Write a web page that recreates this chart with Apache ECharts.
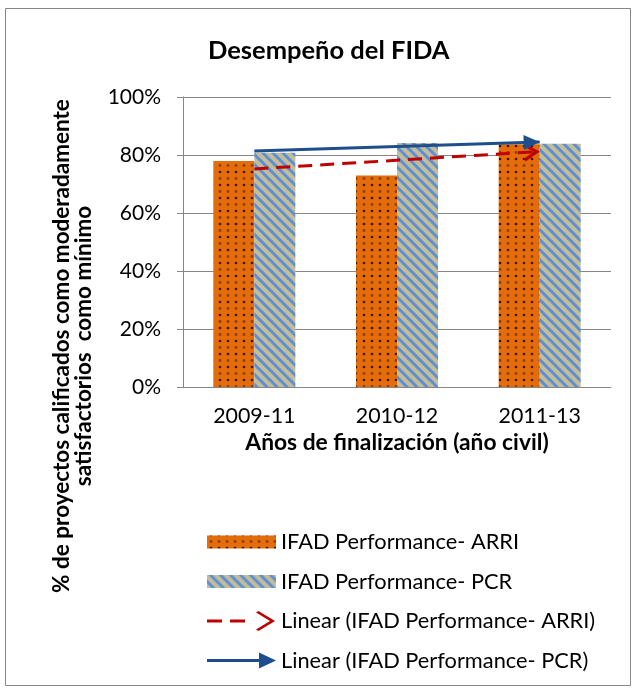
<!DOCTYPE html>
<html>
<head>
<meta charset="utf-8">
<title>Desempeño del FIDA</title>
<script src="https://cdn.jsdelivr.net/npm/echarts@6/dist/echarts.min.js"></script>
<style>
html, body { margin: 0; padding: 0; background: #fff; }
#chart { width: 632px; height: 689px; }
</style>
</head>
<body>
<div id="chart"></div>
<script>
const categories = ['2009-11', '2010-12', '2011-13'];
const arriValues = [77.9, 72.9, 83.7];
const pcrValues = [80.8, 84.1, 83.9];
// trend lines: start (first category) and end (last category)
const arriTrend = [75.2, 81.2];
const pcrTrend = [81.4, 84.5];
const yTicks = [0, 20, 40, 60, 80, 100];
const seriesNames = [
    'IFAD Performance- ARRI',
    'IFAD Performance- PCR',
    'Linear (IFAD Performance- ARRI)',
    'Linear (IFAD Performance- PCR)'
];

const font = 'Lato, "Open Sans", sans-serif';
const gridColor = '#868686';

function dotPattern() {
    const c = document.createElement('canvas');
    c.width = 8;
    c.height = 13;
    const ctx = c.getContext('2d');
    ctx.fillStyle = '#E46C0A';
    ctx.fillRect(0, 0, 8, 13);
    ctx.fillStyle = 'rgba(40,12,0,0.9)';
    ctx.beginPath();
    ctx.arc(4, 3, 1.3, 0, Math.PI * 2);
    ctx.fill();
    ctx.fillStyle = 'rgba(120,50,5,0.8)';
    ctx.beginPath();
    ctx.arc(4, 9.5, 1.4, 0, Math.PI * 2);
    ctx.fill();
    return c;
}

function stripePattern() {
    const s = 10;
    const c = document.createElement('canvas');
    c.width = s;
    c.height = s;
    const ctx = c.getContext('2d');
    ctx.fillStyle = '#C4BD97';
    ctx.fillRect(0, 0, s, s);
    ctx.strokeStyle = '#5B8FD6';
    ctx.lineWidth = 3;
    [-s, 0, s].forEach(k => {
        ctx.beginPath();
        ctx.moveTo(-1, k - 1);
        ctx.lineTo(s + 1, s + k + 1);
        ctx.stroke();
    });
    return c;
}

const arriFill = { image: dotPattern(), repeat: 'repeat' };
const pcrFill = { image: stripePattern(), repeat: 'repeat' };

// legend icons, 69 x 20 boxes (tiny corner specks keep the box size)
const corners = 'M0,0h0.01v0.01z M69,20h-0.01v-0.01z ';
const barIcon = 'path://' + corners + 'M0,3.5H69V16.5H0Z';
const redIcon = 'path://' + corners + 'M0,8.5H15V11.5H0Z M23,8.5H38V11.5H23Z M49,1.5L51.5,0L68,10L51.5,20L49,18.5L63,10Z';
const blueIcon = 'path://' + corners + 'M0,8.5H54V11.5H0Z M52,2L69,10L52,18Z';

// arrow heads for the trend lines, pointing up
const chevron = 'path://M0,15L9,0L18,15L15,16.5L9,6L3,16.5Z';
const triangle = 'path://M0,16L8,0L16,16Z';

function trendLine(values, head, headSize) {
    return [[
        { coord: [categories[0], values[0]], symbol: 'none' },
        {
            coord: [categories[categories.length - 1], values[1]],
            symbol: head,
            symbolSize: headSize,
            symbolOffset: [0, '50%']
        }
    ]];
}

const chart = echarts.init(document.getElementById('chart'));

const option = {
    animation: false,
    backgroundColor: '#ffffff',
    textStyle: { fontFamily: font },
    title: {
        text: 'Desempeño del FIDA',
        left: 203,
        top: 33,
        textStyle: { fontSize: 25.5, fontWeight: 'bold', color: '#000', fontFamily: font }
    },
    grid: { left: 183, right: 21, top: 97, bottom: 302 },
    legend: {
        orient: 'vertical',
        left: 207,
        top: 531,
        padding: 0,
        itemWidth: 69,
        itemHeight: 20,
        itemGap: 17.5,
        selectedMode: false,
        itemStyle: { borderWidth: 0 },
        textStyle: { fontSize: 21.8, color: '#000', fontFamily: font, lineHeight: 20 },
        data: [
            { name: seriesNames[0], icon: barIcon },
            { name: seriesNames[1], icon: barIcon },
            { name: seriesNames[2], icon: redIcon, itemStyle: { color: '#C00000' } },
            { name: seriesNames[3], icon: blueIcon, itemStyle: { color: '#1F4E8C' } }
        ]
    },
    xAxis: {
        type: 'category',
        data: categories,
        name: 'Años de finalización (año civil)',
        nameLocation: 'middle',
        nameGap: 44,
        nameTextStyle: { fontSize: 22.8, fontWeight: 'bold', color: '#000', fontFamily: font },
        axisLine: { lineStyle: { color: gridColor, width: 1 } },
        axisTick: { length: 6, lineStyle: { color: gridColor } },
        axisLabel: { fontSize: 21.4, color: '#000', margin: 19 }
    },
    yAxis: {
        type: 'value',
        min: yTicks[0],
        max: yTicks[yTicks.length - 1],
        interval: yTicks[1] - yTicks[0],
        axisLine: { show: true, lineStyle: { color: gridColor, width: 1 } },
        axisTick: { show: true, length: 6, lineStyle: { color: gridColor } },
        splitLine: { lineStyle: { color: gridColor, width: 1 } },
        axisLabel: { formatter: '{value}%', fontSize: 21, color: '#000', margin: 22 }
    },
    graphic: [
        {
            type: 'rect',
            shape: { x: 5.5, y: 8.5, width: 625, height: 677 },
            style: { fill: 'none', stroke: gridColor, lineWidth: 1 },
            silent: true
        },
        {
            type: 'text',
            x: 73,
            y: 346,
            rotation: Math.PI / 2,
            style: {
                text: '% de proyectos calificados como moderadamente\nsatisfactorios  como mínimo',
                font: 'bold 22.5px ' + font,
                fill: '#000',
                align: 'center',
                verticalAlign: 'middle',
                lineHeight: 22
            },
            silent: true
        }
    ],
    series: [
        {
            name: seriesNames[0],
            type: 'bar',
            data: arriValues,
            barWidth: 41,
            barGap: '0%',
            itemStyle: { color: arriFill }
        },
        {
            name: seriesNames[1],
            type: 'bar',
            data: pcrValues,
            barWidth: 41,
            barGap: '0%',
            itemStyle: { color: pcrFill }
        },
        {
            name: seriesNames[2],
            type: 'line',
            data: [],
            itemStyle: { color: '#C00000' },
            lineStyle: { color: '#C00000' },
            markLine: {
                silent: true,
                symbol: ['none', chevron],
                label: { show: false },
                lineStyle: { color: '#C00000', width: 3, type: [14, 8] },
                data: trendLine(arriTrend, chevron, [18, 16])
            }
        },
        {
            name: seriesNames[3],
            type: 'line',
            data: [],
            itemStyle: { color: '#1F4E8C' },
            lineStyle: { color: '#1F4E8C' },
            markLine: {
                silent: true,
                symbol: ['none', triangle],
                label: { show: false },
                lineStyle: { color: '#1F4E8C', width: 3, type: 'solid' },
                data: trendLine(pcrTrend, triangle, [15, 16])
            }
        }
    ]
};

chart.setOption(option);
</script>
</body>
</html>
